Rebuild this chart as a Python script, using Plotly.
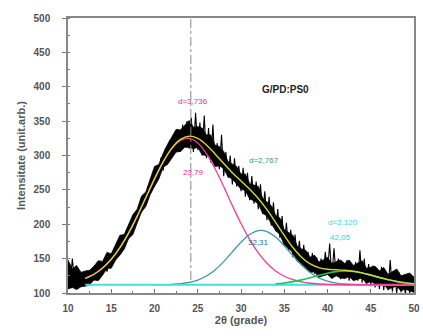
import plotly.graph_objects as go

# ---- data ----
x_fit = list(range(12, 51))
fit_total = [121.2, 127.3, 136.4, 149.1, 166.0, 187.1, 211.8, 238.8, 266.0, 290.8,
             310.7, 323.5, 328.1, 324.9, 315.4, 302.3, 288.4, 275.0, 262.8, 250.8,
             237.4, 221.2, 202.8, 183.7, 166.1, 152.0, 142.3, 136.9, 134.5, 133.8,
             133.1, 131.7, 129.3, 126.0, 122.6, 119.4, 116.7, 114.8, 113.5]
peak1 = [121.2, 127.3, 136.4, 149.1, 166.0, 187.1, 211.8, 238.8, 265.9, 290.6,
         310.1, 322.0, 324.8, 318.1, 302.7, 280.7, 254.7, 227.2, 201.0, 177.7,
         158.4, 143.2, 132.1, 124.4, 119.3, 116.1, 114.2, 113.1, 112.5, 112.2,
         112.0, 112.0, 112.0, 112.0, 112.0, 112.0, 112.0, 112.0, 112.0]
peak2 = [112.0, 112.0, 112.0, 112.0, 112.0, 112.0, 112.0, 112.0, 112.1, 112.2,
         112.6, 113.5, 115.3, 118.8, 124.7, 133.6, 145.7, 159.8, 173.8, 185.0,
         190.7, 189.3, 181.3, 168.7, 154.3, 140.8, 129.9, 122.1, 117.2, 114.5,
         113.1, 112.4, 112.0, 112.0, 112.0, 112.0, 112.0, 112.0, 112.0]
peak3 = [112.0, 112.0, 112.0, 112.0, 112.0, 112.0, 112.0, 112.0, 112.0, 112.0,
         112.0, 112.0, 112.0, 112.0, 112.0, 112.0, 112.0, 112.0, 112.0, 112.1,
         112.3, 112.7, 113.4, 114.6, 116.5, 119.1, 122.2, 125.7, 128.8, 131.1,
         132.0, 131.3, 129.1, 126.0, 122.6, 119.4, 116.7, 114.8, 113.5]
baseline = [112.0] * len(x_fit)

# noisy measured band: upper / lower envelope every 0.5 deg
env_x_start, env_step = 10.0, 0.5
env_hi = [148, 135, 140, 130, 132, 133, 139, 147, 146, 159, 157, 170, 184, 185, 199, 214,
          222, 241, 247, 265, 284, 287, 303, 316, 326, 338, 337, 344, 351, 341, 342, 340,
          330, 330, 315, 313, 306, 291, 287, 284, 273, 273, 259, 257, 255, 238, 233, 227,
          213, 209, 192, 188, 184, 168, 164, 162, 152, 155, 145, 148, 152, 143, 146, 148,
          143, 148, 140, 143, 147, 136, 138, 139, 132, 137, 127, 131, 135, 125, 127, 129,
          123]
env_lo = [106, 108, 105, 109, 110, 112, 119, 118, 126, 136, 136, 148, 155, 164, 179, 185,
          202, 218, 226, 243, 255, 266, 283, 287, 296, 305, 306, 312, 312, 310, 312, 301,
          300, 297, 284, 285, 281, 269, 266, 258, 251, 249, 237, 234, 230, 216, 212, 201,
          191, 185, 170, 165, 159, 146, 143, 136, 130, 131, 123, 125, 127, 121, 125, 122,
          121, 124, 118, 120, 122, 114, 117, 113, 110, 113, 105, 108, 110, 103, 106, 103,
          101]
env_x = [env_x_start + i * env_step for i in range(len(env_hi))]

# spiky raw signal every 0.25 deg
x_raw_start, x_raw_step = 10.0, 0.25
raw = [138, 112, 150, 118, 108, 132, 115, 127, 113, 130, 118, 126, 120, 136, 124, 133,
       128, 146, 131, 142, 141, 160, 149, 170, 158, 180, 170, 190, 180, 198, 192, 214,
       204, 228, 218, 242, 230, 255, 244, 270, 255, 282, 268, 297, 278, 310, 290, 322,
       298, 330, 305, 338, 305, 345, 312, 350, 310, 355, 305, 362, 308, 348, 300, 358,
       296, 340, 290, 345, 285, 318, 280, 330, 270, 305, 268, 300, 258, 296, 255, 285,
       248, 282, 240, 275, 235, 270, 230, 262, 222, 258, 215, 248, 206, 240, 198, 232,
       190, 222, 180, 212, 170, 202, 162, 192, 152, 185, 148, 176, 140, 170, 138, 160,
       130, 158, 128, 152, 124, 150, 126, 160, 128, 172, 122, 165, 125, 150, 120, 145,
       122, 148, 118, 140, 120, 145, 118, 162, 115, 150, 112, 142, 110, 140, 108, 135,
       106, 138, 104, 130, 104, 148, 102, 128, 100, 130, 101, 126, 98, 125, 100, 122,
       105]
x_raw = [x_raw_start + i * x_raw_step for i in range(len(raw))]

fig = go.Figure()
fig.add_trace(go.Scatter(x=env_x, y=env_lo, mode="lines",
                         line=dict(color="black", width=0.8), showlegend=False))
fig.add_trace(go.Scatter(x=env_x, y=env_hi, mode="lines", fill="tonexty",
                         fillcolor="black",
                         line=dict(color="black", width=0.8), showlegend=False))
fig.add_trace(go.Scatter(x=x_raw, y=raw, mode="lines",
                         line=dict(color="black", width=1.1), showlegend=False))

i2 = x_fit.index(20)
i3 = x_fit.index(34)
fig.add_trace(go.Scatter(x=x_fit[i2:], y=peak2[i2:], mode="lines", line_shape="spline",
                         line=dict(color="#3a9aa0", width=1.3), showlegend=False))
fig.add_trace(go.Scatter(x=x_fit, y=baseline, mode="lines",
                         line=dict(color="#3fe0e0", width=1.8), showlegend=False))
fig.add_trace(go.Scatter(x=x_fit, y=peak1, mode="lines", line_shape="spline",
                         line=dict(color="#e8409a", width=1.3), showlegend=False))
fig.add_trace(go.Scatter(x=x_fit[i3:], y=peak3[i3:], mode="lines", line_shape="spline",
                         line=dict(color="#20c060", width=1.6), showlegend=False))
fig.add_trace(go.Scatter(x=x_fit, y=fit_total, mode="lines", line_shape="spline",
                         line=dict(color="#d6d630", width=1.4), showlegend=False))

# reference line (010)
fig.add_shape(type="line", xref="x", yref="y", x0=24.2, x1=24.2, y0=119, y1=500,
              line=dict(color="#888888", width=1, dash="dashdot"))

def ann(x, y, text, color, size=8, bold=False, xanchor="center"):
    fig.add_annotation(x=x, y=y, xref="x", yref="y", text=text, showarrow=False,
                       xanchor=xanchor,
                       font=dict(family="Liberation Sans", size=size, color=color,
                                 weight="bold" if bold else "normal"))

ann(24.2, 507, "(010)", "#555555", size=8, bold=True)
ann(35.2, 396, "G/PD:PS0", "#222222", size=10, bold=True)
ann(24.5, 378, "d=3,736", "#e8308a", size=8)
ann(24.5, 276, "23,79", "#e8308a", size=8)
ann(32.7, 293, "d=2,767", "#2a9a8a", size=8)
ann(32.0, 173, "32,31", "#2a6a9a", size=8)
ann(41.8, 203, "d=2,120", "#30d8e8", size=8)
ann(41.5, 181, "42,05", "#30d8e8", size=8)

axfont = dict(family="Liberation Sans", size=10, color="#555555", weight="bold")
titlefont = dict(family="Liberation Sans", size=11, color="#555555", weight="bold")
fig.update_xaxes(range=[10, 50], tickvals=[10, 15, 20, 25, 30, 35, 40, 45, 50],
                 ticks="inside", ticklen=4, tickcolor="#777777",
                 minor=dict(ticks="inside", ticklen=2, dtick=2.5, tickcolor="#777777"),
                 showline=True, linecolor="#888888", linewidth=1.5, mirror=True,
                 showgrid=False, zeroline=False, tickfont=axfont,
                 ticklabeloverflow="allow", ticklabelstandoff=5,
                 title=dict(text="2θ (grade)", font=titlefont, standoff=2))
fig.update_yaxes(range=[100, 500], tickvals=[100, 150, 200, 250, 300, 350, 400, 450, 500],
                 ticks="outside", ticklen=4, tickcolor="#777777",
                 minor=dict(ticks="inside", ticklen=2, dtick=25, tickcolor="#777777"),
                 showline=True, linecolor="#888888", linewidth=1.5, mirror=True,
                 showgrid=False, zeroline=False, tickfont=axfont,
                 ticklabelstandoff=10,
                 title=dict(text="Intensitate (unit.arb.)", font=titlefont, standoff=6))
fig.update_layout(width=423, height=336, margin=dict(l=68, r=3, t=18, b=43),
                  plot_bgcolor="white", paper_bgcolor="white")
fig.write_html("out.html")
